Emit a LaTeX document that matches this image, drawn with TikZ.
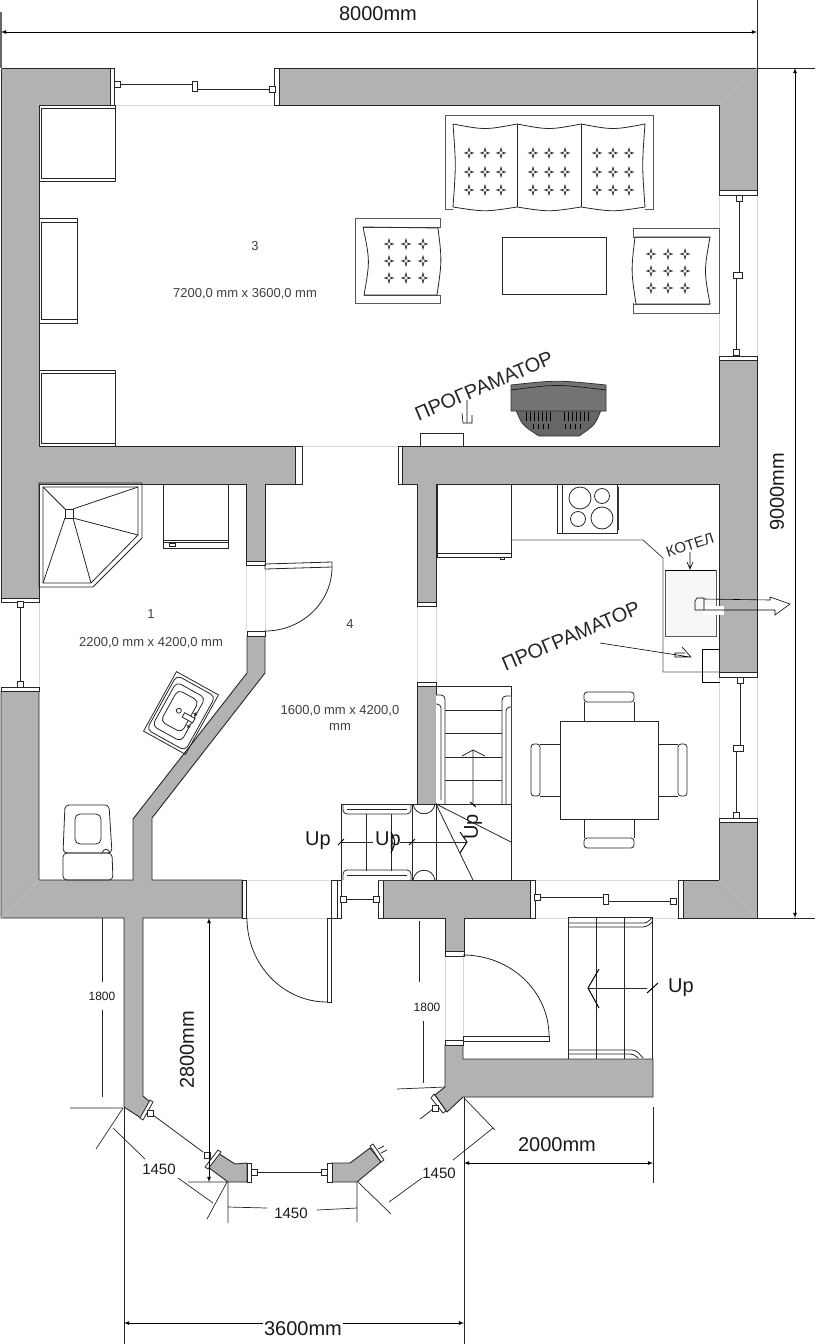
\documentclass[tikz,border=0pt]{standalone}
\usepackage{fontspec}
\setmainfont{Liberation Sans}
\definecolor{wallgray}{HTML}{B2B2B2}
\tikzset{
    wall/.style={draw=black!85,fill=wallgray,line width=.9pt},
    jamb/.style={draw=black!85,fill=white,line width=.8pt},
    mebel/.style={draw=black!85,line width=.8pt},
    thick mebel/.style={draw=black!65,line width=.9pt},
    faint/.style={draw=black!15,line width=.4pt},
    dimline/.style={draw=black!85,line width=.7pt},
    dimarrow/.style={draw=black,line width=.8pt,<->,>=latex},
    hand/.style={draw=black,line width=.6pt},
    roomtext/.style={text=black!75,font=\fontsize{13}{16}\selectfont,align=center},
    dimtext/.style={text=black!90,font=\fontsize{20}{20}\selectfont},
    smalldim/.style={text=black!90,font=\fontsize{15}{15}\selectfont},
    scrawl/.style={text=black!85,font=\fontsize{20}{20}\selectfont},
    tuft/.pic={\draw[line width=.5pt,fill=white] (-4.5,0) -- (-1,-1) -- (0,-5) -- (1,-1) -- (4.5,0) -- (1,1) -- (0,5) -- (-1,1) -- cycle;},
}
\newcommand{\post}[2]{\draw[mebel,fill=white] ({#1-3},{#2-3}) rectangle ({#1+3},{#2+3});}
\begin{document}
\begin{tikzpicture}[x=1pt,y=-1pt]
    \useasboundingbox (0,0) rectangle (815,1344);
    % thresholds and openings
    \draw[faint] (302,446) -- (398,446);
    \draw[faint] (114,105) -- (274,105) (719,195) -- (719,356) (757,195) -- (757,356);
    \draw[faint] (39,601) -- (39,687) (719,677) -- (719,818) (757,677) -- (757,818);
    \draw[faint] (246,565) -- (246,631) (265,565) -- (265,631) (417,606) -- (417,682) (436,606) -- (436,682);
    \draw[faint] (152,880) -- (242,880) (246,880) -- (331,880) (246,918) -- (331,918) (535,880) -- (678,880) (535,918) -- (678,918);
    \draw[faint] (445,956) -- (445,1040) (463,956) -- (463,1036);
    % walls
    \draw[wall] (1,68) -- (110,68) -- (110,105) -- (39,105) -- (39,446) -- (295,446) -- (295,484) -- (265,484)
        -- (265,561) -- (246,561) -- (246,484) -- (39,484) -- (39,598) -- (1,598) -- cycle;
    \draw[wall] (279,68) -- (757,68) -- (757,190) -- (719,190) -- (719,105) -- (279,105) -- cycle;
    \draw[wall] (402,446) -- (719,446) -- (719,360) -- (757,360) -- (757,672) -- (719,672) -- (719,484)
        -- (436,484) -- (436,602) -- (417,602) -- (417,484) -- (402,484) -- cycle;
    \draw[wall] (683,880) -- (719,880) -- (719,822) -- (757,822) -- (757,918) -- (683,918) -- cycle;
    \draw[wall] (1,691) -- (39,691) -- (39,880) -- (133,880) -- (133,819) -- (247,673) -- (247,636) -- (265,636)
        -- (265,673) -- (152,818) -- (152,880) -- (242,880) -- (242,918) -- (143,918) -- (143,1096) -- (150,1102)
        -- (141,1118) -- (124,1107) -- (124,918) -- (1,918) -- cycle;
    \draw[wall] (383,880) -- (530,880) -- (530,918) -- (464,918) -- (464,951) -- (445,951) -- (445,918) -- (383,918) -- cycle;
    \draw[wall] (417,686) -- (436,686) -- (436,804) -- (417,804) -- cycle;
    \draw[wall] (445,1045) -- (463,1045) -- (463,1059) -- (653,1059) -- (653,1097) -- (463,1097) -- (447,1112) -- (435,1095) -- (445,1087) -- cycle;
    \draw[wall] (218,1153) -- (235,1164) -- (247,1163) -- (247,1182) -- (228,1182) -- (208,1167) -- cycle;
    \draw[wall] (332,1163) -- (350,1163) -- (370,1148) -- (381,1162) -- (357,1182) -- (332,1182) -- cycle;
    % corner seams
    \draw[faint,draw=black!25] (1,68) -- (39,105) (757,68) -- (719,105) (1,918) -- (39,880) (757,918) -- (719,880);
    % jambs
    \draw[jamb] (110,68) rectangle (114.5,105);
    \draw[jamb] (274,68) rectangle (279,105);
    \draw[jamb] (719,190) rectangle (757,195);
    \draw[jamb] (719,356) rectangle (757,360);
    \draw[jamb] (719,672) rectangle (757,677);
    \draw[jamb] (719,818) rectangle (757,822);
    \draw[jamb] (1,598) rectangle (39,602);
    \draw[jamb] (1,687) rectangle (39,691);
    \draw[jamb] (295,446) rectangle (302,484);
    \draw[jamb] (398,446) rectangle (402,484);
    \draw[jamb] (417,602) rectangle (436,606);
    \draw[jamb] (417,682) rectangle (436,686);
    \draw[jamb] (246,561) rectangle (265,565);
    \draw[jamb] (247,631) rectangle (265,636);
    \draw[jamb] (242,880) rectangle (246,918);
    \draw[jamb] (331,880) rectangle (337,918);
    \draw[jamb] (337,880) rectangle (341,918);
    \draw[jamb] (378,880) rectangle (383,918);
    \draw[jamb] (530,880) rectangle (535,918);
    \draw[jamb] (678,880) rectangle (683,918);
    \draw[jamb] (445,951) rectangle (464,956);
    \draw[jamb] (445,1040) rectangle (463,1045);
    \draw[jamb] (247,1163) rectangle (251,1182);
    \draw[jamb] (327,1163) rectangle (332,1182);
    \draw[jamb] (218,1150) -- (221,1152) -- (208,1169) -- (205,1167) -- cycle;
    \draw[jamb] (150,1100) -- (153,1102) -- (143,1120) -- (140,1118) -- cycle;
    \draw[jamb] (370,1146) -- (373,1144) -- (384,1160) -- (381,1162) -- cycle;
    \draw[jamb] (434,1094) -- (431,1098) -- (443,1113) -- (446,1111) -- cycle;
    % windows
    \draw[mebel] (117,84) -- (194,84) (194,89) -- (272,89);
    \post{117}{84} \post{272}{89}
    \draw[mebel,fill=white] (192,81) rectangle (197,91);
    \draw[mebel] (739,197) -- (739,275) (736,275) -- (736,353);
    \post{739}{198} \post{736}{352}
    \draw[mebel,fill=white] (733,272) rectangle (742,278);
    \draw[mebel] (740,680) -- (740,748) (736,748) -- (736,816);
    \post{740}{680} \post{736}{815}
    \draw[mebel,fill=white] (733,745) rectangle (743,751);
    \draw[mebel] (20,604) -- (20,684);
    \post{20}{604} \post{20}{684}
    \draw[mebel] (540,897) -- (604,897) (607,901) -- (671,901);
    \post{537}{897} \post{673}{901}
    \draw[mebel,fill=white] (603,894) rectangle (608,904);
    \draw[mebel] (344,899) -- (375,899);
    \post{343}{899} \post{376}{899}
    \draw[mebel] (254,1172) -- (324,1172);
    \post{254}{1172} \post{324}{1172}
    \draw[mebel] (153,1115) -- (203,1152);
    \post{150}{1113} \post{207}{1155}
    \draw[mebel] (437,1106) -- (420,1119);
    \post{435}{1108}
    \draw[mebel] (378,1149) -- (384,1146) (381,1153) -- (387,1150);
    % doors
    \draw[mebel] (265,564) -- (332,562) -- (332,567) -- (265,569) -- cycle;
    \draw[mebel] (332,567) arc (0:90:67 and 64);
    \draw[mebel] (327,918) rectangle (331,1002);
    \draw[mebel] (327,1002) arc (90:180:80 and 84);
    \draw[mebel] (463,1036) rectangle (549,1041);
    \draw[mebel] (549,1036) arc (0:-90:86 and 81);
    % cupboards on the west wall
    \draw[mebel] (39,105) rectangle (115,181) (41,108) rectangle (115,178);
    \draw[mebel] (39,218) rectangle (77,323) (41,222) rectangle (77,319);
    \draw[mebel] (39,370) rectangle (115,446) (41,373) rectangle (115,443);
    % sofa
    \draw[thick mebel] (453,209) -- (445,209) -- (445,115) -- (653,115) -- (653,209) -- (645,209);
    \draw[mebel] (453,124) .. controls (485,130) .. (517,124) .. controls (549,130) .. (581,124) .. controls (613,130) .. (645,124)
        .. controls (642,165) .. (645,207) .. controls (613,212) .. (581,207) .. controls (549,212) .. (517,207) .. controls (485,212) .. (453,207)
        .. controls (456,165) .. (453,124);
    \draw[mebel] (517,124) -- (517,207) (581,124) -- (581,207);
    \foreach \i in {0,64,128}
        \foreach \cx in {469,485,501}
            \foreach \cy in {153,172,190}
                \pic at ({\i+\cx},\cy) {tuft};
    % armchairs
    \draw[thick mebel] (355,218) rectangle (440,303) (355,227) -- (355,218);
    \fill[white] (364,228) rectangle (441,295);
    \draw[thick mebel] (440,218) -- (440,227) -- (363,227) (440,303) -- (440,295) -- (364,295);
    \draw[mebel] (363,227) -- (438,228) .. controls (442,261) .. (437,295) -- (364,295) .. controls (370,261) .. (363,227);
    \foreach \cx in {389,406,423}
        \foreach \cy in {244,261,278}
            \pic at (\cx,\cy) {tuft};
    \draw[thick mebel] (633,228) rectangle (719,313);
    \fill[white] (632,238) rectangle (712,303);
    \draw[thick mebel] (633,228) -- (633,237) -- (710,237) (633,313) -- (633,304) -- (710,304);
    \draw[mebel] (635,237) -- (710,237) .. controls (704,271) .. (710,304) -- (636,304) .. controls (631,271) .. (635,237);
    \foreach \cx in {651,668,685}
        \foreach \cy in {254,271,288}
            \pic at (\cx,\cy) {tuft};
    \draw[mebel] (502,237) rectangle (606,294);
    % unit under the programmer label
    \draw[draw=black!80,fill=black!60,line width=.8pt] (516,410) .. controls (522,425) .. (539,436) -- (579,436) .. controls (595,425) .. (601,410) -- cycle;
    \draw[draw=black!80,fill=black!55,line width=.8pt] (511,385) .. controls (557,380) .. (606,385) -- (606,411) -- (511,411) -- cycle;
    \draw[black!90,line width=.7pt] (511,390) .. controls (557,384) .. (606,390);
    \foreach \x in {526,530,534,538,542,546,550,564,568,572,576,580,584,588}
        \draw[black,line width=.8pt] (\x,412) -- (\x,421);
    \foreach \x in {533,538,543,548,565,570,575,580}
        \draw[black,line width=.8pt] (\x,424) -- (\x,429);
    \draw[mebel] (420,447) -- (420,433) -- (463,433) -- (463,446);
    \draw[hand] (467,400) -- (467,422) (462,413) -- (463,423) -- (472,423) -- (472,415);
    % kitchen
    \draw[mebel] (437,484) rectangle (511,557) (437,553) -- (511,553);
    \draw[mebel] (500,557) rectangle (504,559);
    \draw[draw=black!65,line width=.9pt] (511,540) -- (643,540) -- (663,558) -- (663,672) -- (719,672);
    \draw[mebel] (557,484) rectangle (617,533) (562,484) -- (562,533);
    \draw[draw=black!80,line width=1.6pt] (618,487) -- (618,530);
    \draw[mebel] (580,498) circle (11) (602,496) circle (7.5) (578,519) circle (7.5) (602,518) circle (11);
    % boiler and programmer box
    \draw[draw=black!65,fill=black!3,line width=.8pt] (665,570) rectangle (716,636);
    \draw[hand] (665,570) -- (716,570);
    \fill[white] (704,606) rectangle (724,615);
    \draw[hand] (704,599) -- (770,600) -- (770,597) -- (790,604) -- (775,615) -- (775,610) -- (695,610);
    \draw[hand] (704,598) -- (697,598) -- (695,601) -- (695,610) (704,598) -- (704,610);
    \draw[hand] (702,682) -- (702,649) -- (719,649) (702,682) -- (720,682);
    \draw[hand] (600,643) -- (690,657) (682,647) -- (691,657) -- (675,657) -- (675,653) -- (685,653);
    \draw[hand] (690,552) -- (690,568) (687,562) -- (690,569) -- (693,562);
    % table and chairs
    \draw[mebel] (560,721) rectangle (658,819);
    \draw[mebel] (584,721) -- (584,702) (634,721) -- (634,702);
    \draw[mebel,rounded corners=3pt] (584,692) rectangle (634,702);
    \draw[mebel] (584,819) -- (584,838) (634,819) -- (634,838);
    \draw[mebel,rounded corners=3pt] (584,838) rectangle (634,848);
    \draw[mebel] (560,744) -- (540,744) (560,796) -- (540,796);
    \draw[mebel,rounded corners=3pt] (531,744) rectangle (540,796);
    \draw[mebel] (658,744) -- (678,744) (658,796) -- (678,796);
    \draw[mebel,rounded corners=3pt] (678,744) rectangle (687,796);
    % stairs up from the landing
    \draw[mebel] (436,686) -- (511,686) -- (511,880) (436,804) -- (511,804) (436,804) -- (436,880);
    \draw[mebel] (436,804) -- (511,842) (436,804) -- (473,880);
    \foreach \y in {710,733,757,780}
        \draw[mebel] (436,\y) -- (511,\y);
    \fill[white] (436,695) rectangle (445,803) (502,695) rectangle (511,803);
    \draw[mebel,rounded corners=4pt] (436,695) -- (445,695) -- (445,804) (436,704) -- (441,704) -- (441,800);
    \draw[mebel,rounded corners=4pt] (511,696) -- (502,696) -- (502,804) (511,707) -- (506,707) -- (506,804);
    \draw[mebel] (473,804) -- (473,750) (462,756) -- (473,750) -- (485,756);
    \draw[line width=1pt] (470,802) -- (476,807);
    % stairs to the west
    \draw[mebel] (341,880) -- (341,804) -- (436,804) (366,804) -- (366,880) (391,804) -- (391,880) (412,804) -- (412,880);
    \fill[white] (343,805) rectangle (411,814) (343,871) rectangle (411,880);
    \draw[mebel,rounded corners=4pt] (343,805) -- (343,814) -- (411,814) -- (411,805);
    \draw[mebel,rounded corners=4pt] (343,880) -- (343,870) -- (411,870) -- (411,880);
    \draw[mebel] (347,875) -- (407,875) (347,809) -- (407,809);
    \draw[mebel] (413,804) .. controls (415,817) and (433,817) .. (435,804);
    \draw[mebel] (413,880) .. controls (415,867) and (433,867) .. (435,880);
    \draw[mebel] (341,842) -- (373,842) (400,842) -- (467,842);
    \draw[line width=1pt] (338,845) -- (344,839) (409,845) -- (415,839);
    \draw[line width=1pt] (391,832) .. controls (396,842) .. (391,853);
    \draw[line width=1pt] (460,832) -- (467,842) -- (460,853);
    % porch stairs
    \draw[mebel] (568,917) -- (652,917) -- (652,1059) (568,917) -- (568,1059) (624,917) -- (624,1059);
    \draw[draw=black!60,line width=1pt] (596,917) -- (596,1059);
    \fill[white] (569,918) rectangle (651,926) (569,1051) rectangle (643,1058);
    \draw[mebel,rounded corners=4pt] (568,923) -- (648,923) -- (652,917) (568,927) -- (647,927) -- (652,922);
    \draw[mebel,rounded corners=4pt] (568,1050) -- (636,1050) -- (643,1058) (568,1054) -- (634,1054) -- (638,1058);
    \draw[mebel] (596,917) -- (596,1059) (624,917) -- (624,1059);
    \draw[mebel] (647,988) -- (588,988);
    \draw[line width=1pt] (599,969) -- (588,988) -- (599,1008) (647,993) -- (658,983);
    % shower
    \draw[mebel] (39,483) -- (142,483) -- (142,538) -- (93,587) -- (39,587) -- cycle;
    \draw[mebel] (43,487) -- (138,487) -- (138,535) -- (91,583) -- (43,583) -- cycle;
    \draw[mebel] (65,509) rectangle (73,518);
    \draw[mebel] (43,487) -- (65,509) (138,487) -- (73,509) (138,535) -- (73,518) (91,583) -- (73,518) (43,583) -- (65,518);
    % washing machine
    \draw[mebel] (163,484) rectangle (228,548) (163,540) -- (228,540) (163,542) -- (228,542);
    \draw[mebel] (169,543) rectangle (175,546);
    % wash basin
    \begin{scope}[shift={(181,713)},rotate=-29]
        \draw[mebel] (-24,-34) rectangle (24,34);
        \draw[mebel,rounded corners=5pt] (-22,-31) rectangle (22,31);
        \draw[mebel,rounded corners=5pt] (-19,-25) rectangle (14,25);
        \draw[mebel,rounded corners=5pt] (-14,-19) rectangle (10,17);
        \draw[mebel] (-3,-1) circle (2.5);
        \draw[mebel,fill=white] (3,-2) rectangle (15,3);
        \draw[mebel] (11,-6) -- (15,-6) (13,-8) -- (13,-4) (11,8) -- (15,8) (13,6) -- (13,10);
    \end{scope}
    % toilet
    \draw[mebel,rounded corners=4pt] (65,805) -- (109,805) -- (112,853) -- (63,853) -- cycle;
    \draw[mebel,rounded corners=5pt] (75,814) rectangle (101,844);
    \draw[mebel,rounded corners=4pt] (63,853) -- (112,853) -- (113,880) -- (63,880) -- cycle;
    \draw[mebel] (102,853) .. controls (103,848) and (109,848) .. (110,853);
    % dimensions
    \draw[dimline,draw=black!60,line width=1.2pt] (1,12) -- (1,68);
    \draw[dimline] (757,0) -- (757,68) (757,68) -- (815,68) (757,918) -- (815,918);
    \draw[dimarrow] (1,32) -- (757,32);
    \draw[dimarrow] (795,68) -- (795,918);
    \draw[dimarrow] (209,918) -- (209,1182);
    \draw[dimline] (124,1107) -- (124,1344) (464,1097) -- (464,1344) (653,1107) -- (653,1183);
    \draw[dimarrow] (124,1323) -- (464,1323);
    \draw[dimarrow] (464,1163) -- (653,1163);
    \draw[dimline] (102,918) -- (102,982) (102,1010) -- (102,1097) (419,921) -- (419,982) (423,1021) -- (423,1083);
    \draw[dimline] (397,1089) -- (445,1087) (70,1108) -- (123,1108) (123,1108) -- (96,1149);
    \draw[dimline] (113,1128) -- (145,1159) (178,1178) -- (213,1203) (227,1182) -- (207,1219) (188,1182) -- (227,1182);
    \draw[dimline] (228,1182) -- (228,1223) (228,1207) -- (267,1208) (317,1210) -- (357,1208) (357,1182) -- (357,1222);
    \draw[dimline] (358,1182) -- (391,1214) (389,1202) -- (422,1178) (453,1160) -- (493,1128) (464,1098) -- (495,1130);
    % labels
    \node[dimtext] (len8000) at (378,14) {8000mm};
    \node[dimtext,rotate=90] (len9000) at (777,492) {9000mm};
    \node[dimtext,rotate=90] (len2800) at (187,1050) {2800mm};
    \node[dimtext] (len2000) at (557,1145) {2000mm};
    \node[dimtext,fill=white,inner sep=1pt] (len3600) at (303,1329) {3600mm};
    \node[smalldim,font=\fontsize{12}{12}\selectfont] (len1800a) at (102,996) {1800};
    \node[smalldim,font=\fontsize{12}{12}\selectfont] (len1800b) at (427,1007) {1800};
    \node[smalldim] (len1450a) at (159,1169) {1450};
    \node[smalldim] (len1450b) at (291,1213) {1450};
    \node[smalldim] (len1450c) at (439,1173) {1450};
    \node[roomtext] (room3) at (255,246) {3};
    \node[roomtext] (size3) at (245,294) {7200,0 mm x 3600,0 mm};
    \node[roomtext] (room1) at (151,614) {1};
    \node[roomtext] (size1) at (151,643) {2200,0 mm x 4200,0 mm};
    \node[roomtext] (room4) at (350,624) {4};
    \node[roomtext] (size4) at (340,718) {1600,0 mm x 4200,0\\mm};
    \node[dimtext] (upa) at (318,841) {Up};
    \node[dimtext] (upb) at (388,841) {Up};
    \node[dimtext,rotate=90] (upc) at (473,827) {Up};
    \node[dimtext] (upd) at (681,988) {Up};
    \node[scrawl,rotate=23] (progupper) at (484,386) {ПРОГРАМАТОР};
    \node[scrawl,rotate=23] (proglower) at (571,636) {ПРОГРАМАТОР};
    \node[scrawl,rotate=18,font=\fontsize{15}{15}\selectfont] (boiler) at (690,545) {КОТЕЛ};
\end{tikzpicture}
\end{document}
